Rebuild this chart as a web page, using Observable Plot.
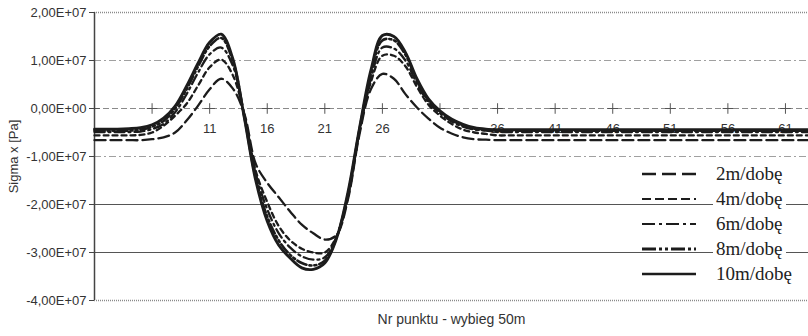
<!DOCTYPE html>
<html><head><meta charset="utf-8">
<script src="https://cdn.jsdelivr.net/npm/d3@7"></script>
<script src="https://cdn.jsdelivr.net/npm/@observablehq/plot@0.6"></script>
<style>
body{margin:0;background:#fff;}
#wrap{position:relative;width:808px;height:336px;overflow:hidden;background:#fff;}
#legend{position:absolute;left:641px;top:161px;font-family:"Liberation Serif","Times New Roman",serif;font-size:19px;color:#222;}
.row{display:flex;align-items:center;height:25px;}
.row span{background:#fff;margin-left:16px;padding:0 3px;line-height:20px;}
</style></head><body><div id="wrap"><div id="legend"></div></div>
<script>
// point numbers (x categories)
const points = d3.range(1, 64);
// series values in MPa (x1e6 Pa)
const s2 = [-6.6,-6.6,-6.6,-6.6,-6.6, -6.4,-6.0,-5.0,-2.5,0.6, 4.0,6.2,4.2,-1.0,-11.5, -15.5,-18.5,-21.5,-24.2,-26.0, -27.3,-26.4,-19.0,-5.5,4.0, 7.2,6.2,3.0,0.2,-2.1, -4.0,-5.2,-6.0,-6.4,-6.5,
  -6.6,-6.6,-6.6,-6.6,-6.6,-6.6,-6.6,-6.6,-6.6,-6.6,-6.6,-6.6,-6.6,-6.6,-6.6,-6.6,-6.6,-6.6,-6.6,-6.6,-6.6,-6.6,-6.6,-6.6,-6.6,-6.6,-6.6,-6.6];
const s4 = [-5.6,-5.6,-5.6,-5.6,-5.5, -5.0,-3.6,-1.5,1.0,4.8, 8.6,10.2,7.0,-1.2,-13.0, -19.5,-24.5,-27.5,-29.2,-30.0, -30.0,-26.8,-18.5,-5.0,5.5, 11.0,11.0,8.8,4.5,0.8, -1.5,-3.2,-4.4,-5.0,-5.3,
  -5.6,-5.6,-5.6,-5.6,-5.6,-5.6,-5.6,-5.6,-5.6,-5.6,-5.6,-5.6,-5.6,-5.6,-5.6,-5.6,-5.6,-5.6,-5.6,-5.6,-5.6,-5.6,-5.6,-5.6,-5.6,-5.6,-5.6,-5.6];
const s6 = [-4.9,-4.9,-4.9,-4.9,-4.8, -4.3,-3.2,-0.8,3.0,7.5, 11.3,12.7,9.0,-1.4,-13.5, -21.0,-26.0,-29.0,-30.8,-31.5, -31.0,-26.8,-18.5,-4.8,6.2, 12.7,12.5,10.0,5.2,1.3, -1.0,-2.7,-3.8,-4.4,-4.6,
  -4.9,-4.9,-4.9,-4.9,-4.9,-4.9,-4.9,-4.9,-4.9,-4.9,-4.9,-4.9,-4.9,-4.9,-4.9,-4.9,-4.9,-4.9,-4.9,-4.9,-4.9,-4.9,-4.9,-4.9,-4.9,-4.9,-4.9,-4.9];
const s8 = [-4.6,-4.6,-4.6,-4.6,-4.4, -3.8,-2.6,0.0,4.0,8.8, 13.0,14.7,10.0,-1.6,-14.5, -22.5,-27.5,-30.5,-32.2,-32.7, -31.7,-27.0,-18.0,-4.5,7.2, 14.2,14.2,11.2,5.8,1.7, -0.7,-2.4,-3.5,-4.2,-4.5,
  -4.6,-4.6,-4.6,-4.6,-4.6,-4.6,-4.6,-4.6,-4.6,-4.6,-4.6,-4.6,-4.6,-4.6,-4.6,-4.6,-4.6,-4.6,-4.6,-4.6,-4.6,-4.6,-4.6,-4.6,-4.6,-4.6,-4.6,-4.6];
const s10 = [-4.3,-4.3,-4.3,-4.2,-4.0, -3.4,-2.0,0.5,4.7,9.5, 13.8,15.5,10.5,-1.8,-15.0, -23.5,-28.5,-31.2,-33.2,-33.5, -32.2,-27.2,-17.5,-4.2,8.0, 15.2,15.0,11.7,6.2,2.0, -0.5,-2.2,-3.3,-4.0,-4.3,
  -4.4,-4.4,-4.4,-4.4,-4.4,-4.4,-4.4,-4.4,-4.4,-4.4,-4.4,-4.4,-4.4,-4.4,-4.4,-4.4,-4.4,-4.4,-4.4,-4.4,-4.4,-4.4,-4.4,-4.4,-4.4,-4.4,-4.4,-4.4];
const seriesNames = ["2m/dobę","4m/dobę","6m/dobę","8m/dobę","10m/dobę"];
const yTicks = [2e7, 1e7, 0, -1e7, -2e7, -3e7, -4e7];
const xTicks = [1, 6, 11, 16, 21, 26, 31, 36, 41, 46, 51, 56, 61];
const xTickLabels = [11, 16, 21, 26, 36, 41, 46, 51, 56, 61];
const yTitle = "Sigma x [Pa]";
const xTitle = "Nr punktu - wybieg 50m";

const seriesValues = [s2, s4, s6, s8, s10];
const styles = [
  {dash: "11,5", w: 2.3, legDash: "14,6", legW: 2.4},
  {dash: "5,4", w: 2.3, legDash: "9,4", legW: 2.2},
  {dash: "10,4,2,4", w: 2.3, legDash: "13,4,3,4", legW: 2.2},
  {dash: "10,3,2,3,2,3", w: 2.6, legDash: "14,3,3,3,3,3", legW: 3.2},
  {dash: null, w: 2.8, legDash: null, legW: 2.6}
];
const tables = seriesValues.map(arr => points.map((p, k) => ({p, v: arr[k] * 1e6})));

function fmtE(v) {
  if (v === 0) return "0,00E+00";
  const e = Math.floor(Math.log10(Math.abs(v)));
  const m = v / Math.pow(10, e);
  return m.toFixed(2).replace(".", ",") + "E" + (e >= 0 ? "+" : "-") + String(Math.abs(e)).padStart(2, "0");
}

const lineMarks = tables.map((t, k) => Plot.line(t, {
  x: "p", y: "v", curve: "catmull-rom", stroke: "#1c1c1c",
  strokeWidth: styles[k].w, strokeDasharray: styles[k].dash || undefined
}));

const chart = Plot.plot({
  width: 808, height: 336,
  marginLeft: 94, marginRight: 0, marginTop: 12, marginBottom: 36,
  style: {fontFamily: '"Liberation Sans", Arial, sans-serif', fontSize: "13px", color: "#333", background: "#fff"},
  x: {domain: [1, 63], axis: null},
  y: {domain: [-4e7, 2e7], axis: null},
  marks: [
    Plot.ruleY([1e7, -1e7], {stroke: "#a0a0a0", strokeWidth: 1, strokeDasharray: "7,3,2,3"}),
    Plot.ruleY([-2e7, -3e7], {stroke: "#555", strokeWidth: 1}),
    Plot.ruleY([2e7, -4e7], {stroke: "#8a8a8a", strokeWidth: 1.6, strokeDasharray: "1,1"}),
    Plot.ruleY([0], {stroke: "#8a8a8a", strokeWidth: 1, strokeDasharray: "6,3"}),
    Plot.dot(xTicks, {x: d => d, y: 0, symbol: "plus", r: 3.5, stroke: "#555", strokeWidth: 1}),
    Plot.text(xTickLabels, {x: d => d, y: 0, dy: 20, text: d => String(d), fill: "#333", fontSize: 13}),
    Plot.axisY({ticks: yTicks, tickFormat: fmtE, tickSize: 5, tickPadding: 3, fontSize: 13, label: null, stroke: "#444", fill: "#333"}),
    Plot.ruleX([1], {stroke: "#444", strokeWidth: 1.5}),
    ...lineMarks,
    Plot.text([yTitle], {frameAnchor: "left", textAnchor: "middle", rotate: -90, dx: -81, fontSize: 13, fill: "#333"}),
    Plot.text([xTitle], {frameAnchor: "bottom", textAnchor: "middle", dy: 23, fontSize: 14, fill: "#333"})
  ]
});
const wrap = document.getElementById("wrap");
wrap.insertBefore(chart, wrap.firstChild);

// legend
const leg = d3.select("#legend");
seriesNames.forEach((name, k) => {
  const row = leg.append("div").attr("class", "row");
  const svg = row.append("svg").attr("width", 56).attr("height", 10);
  const ln = svg.append("line").attr("x1", 1).attr("x2", 55).attr("y1", 5).attr("y2", 5)
    .attr("stroke", "#1c1c1c").attr("stroke-width", styles[k].legW);
  if (styles[k].legDash) ln.attr("stroke-dasharray", styles[k].legDash);
  row.append("span").text(name);
});
</script>
</body></html>
